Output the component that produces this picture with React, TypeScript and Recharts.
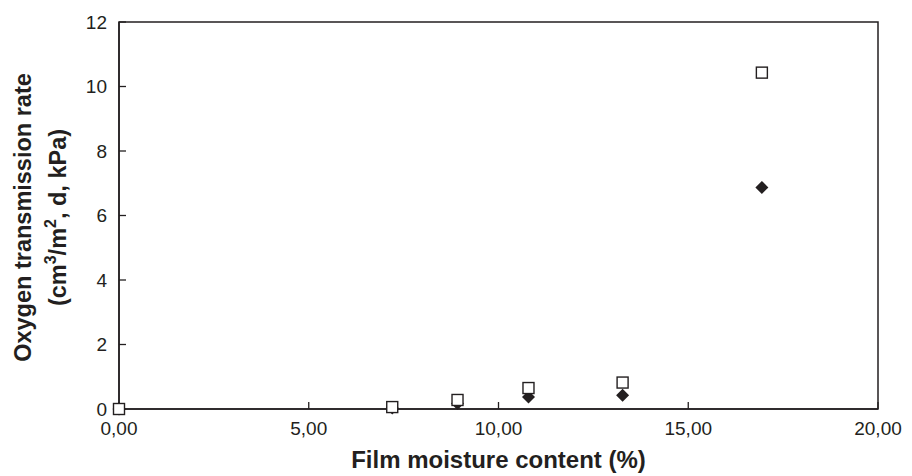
import { ReferenceArea, Scatter, ScatterChart, XAxis, YAxis } from 'recharts'

const moisture = [0, 7.2, 8.92, 10.79, 13.27, 16.94]
const otrSquare = [0, 0.06, 0.28, 0.65, 0.82, 10.43]
const otrDiamond = [0, 0.03, 0.17, 0.37, 0.43, 6.87]
const xTicks = [0, 5, 10, 15, 20]
const yTicks = [0, 2, 4, 6, 8, 10, 12]

const INK = '#231f20'
const FONT = 'Liberation Sans, Arial, sans-serif'

const squareData = moisture.map((x, i) => ({ x, y: otrSquare[i] }))
const diamondData = moisture.map((x, i) => ({ x, y: otrDiamond[i] }))

const SquareMark = (props: any) => {
  const { cx, cy } = props
  return <rect x={cx - 5.5} y={cy - 5.5} width={11} height={11} fill="#fff" stroke={INK} strokeWidth={1.4} />
}

const DiamondMark = (props: any) => {
  const { cx, cy } = props
  return <path d={`M${cx},${cy - 6.5}L${cx + 6.5},${cy}L${cx},${cy + 6.5}L${cx - 6.5},${cy}Z`} fill={INK} />
}

const YTitle = (props: any) => {
  const vb = props.viewBox
  const cy = vb.y + vb.height / 2 + 2
  return (
    <g fontFamily={FONT} fontWeight="bold" fontSize={23.5} fill={INK}>
      <text x={31} y={cy} textAnchor="middle" transform={`rotate(-90, 31, ${cy})`}>
        Oxygen transmission rate
      </text>
      <text x={66} y={cy} textAnchor="middle" transform={`rotate(-90, 66, ${cy})`}>
        (cm<tspan fontSize={16} dy={-10}>3</tspan>
        <tspan dy={10}>/m</tspan>
        <tspan fontSize={16} dy={-10}>2</tspan>
        <tspan dy={10}>, d, kPa)</tspan>
      </text>
    </g>
  )
}

export default function App() {
  return (
    <div style={{ position: 'absolute', left: 0, top: 0, background: '#fff' }}>
      <ScatterChart width={912} height={476} margin={{ top: 22, right: 34, left: 0, bottom: 0 }}>
        <XAxis
          type="number"
          dataKey="x"
          domain={[0, 20]}
          ticks={xTicks}
          height={67}
          tickFormatter={(v: number) => v.toFixed(2).replace('.', ',')}
          tick={{ fill: INK, fontSize: 19, fontFamily: FONT }}
          tickSize={-7}
          tickMargin={20}
          axisLine={{ stroke: INK, strokeWidth: 1.5 }}
          tickLine={{ stroke: INK, strokeWidth: 1.3 }}
          label={{
            value: 'Film moisture content (%)',
            position: 'insideBottom',
            offset: 8,
            fill: INK,
            fontSize: 24,
            fontWeight: 'bold',
            fontFamily: FONT,
          }}
        />
        <YAxis
          type="number"
          dataKey="y"
          domain={[0, 12]}
          ticks={yTicks}
          width={119}
          tick={{ fill: INK, fontSize: 19, fontFamily: FONT }}
          tickSize={-7}
          tickMargin={19}
          axisLine={{ stroke: INK, strokeWidth: 1.5 }}
          tickLine={{ stroke: INK, strokeWidth: 1.3 }}
          label={<YTitle />}
        />
        <ReferenceArea x1={0} x2={20} y1={0} y2={12} fill="none" fillOpacity={0} stroke={INK} strokeWidth={1.5} />
        <Scatter data={diamondData} shape={<DiamondMark />} isAnimationActive={false} />
        <Scatter data={squareData} shape={<SquareMark />} isAnimationActive={false} />
      </ScatterChart>
    </div>
  )
}
